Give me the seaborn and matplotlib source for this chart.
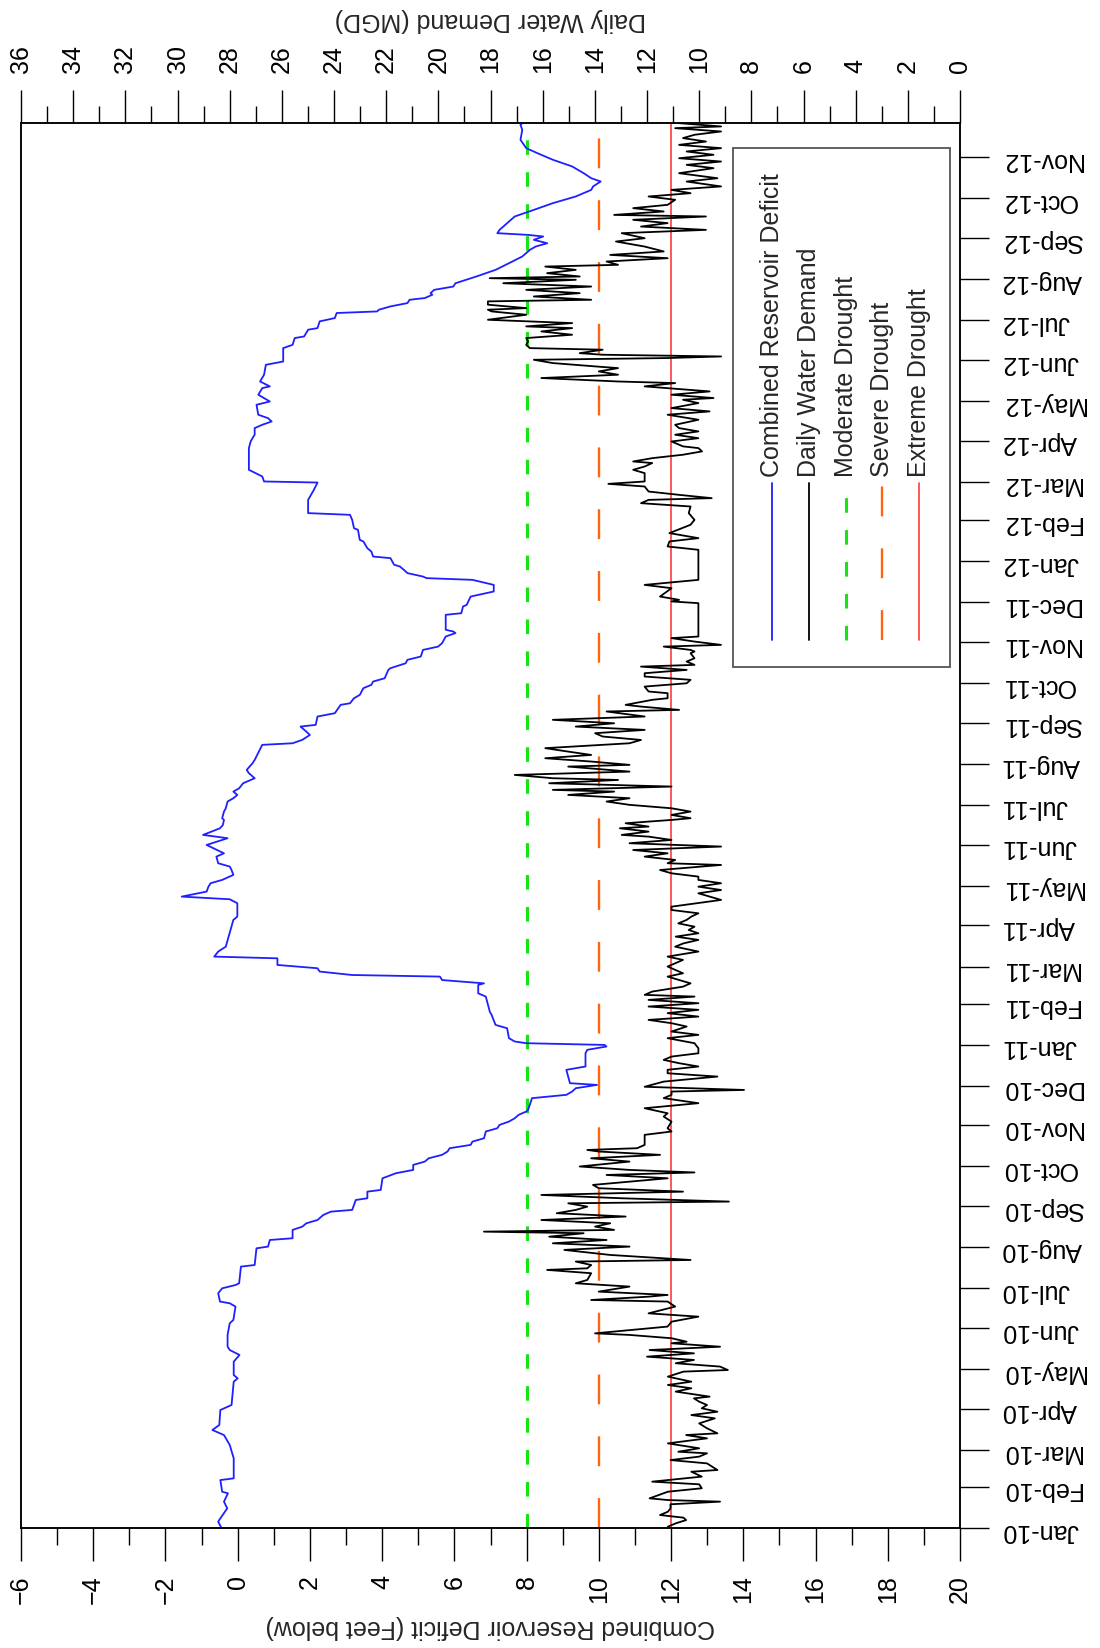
import pandas as pd
import seaborn as sns
import matplotlib
matplotlib.use("Agg")
import matplotlib.pyplot as plt
import matplotlib.dates as mdates
from matplotlib.lines import Line2D
from matplotlib.patches import Rectangle
from matplotlib.ticker import MultipleLocator

# days after 2010-01-01 and combined reservoir deficit (feet below)
deficit_day = [0, 4.8, 7.3, 14.8, 19.9, 26.2, 27.4, 36.2, 37.5, 52.6, 62.7, 70.2, 74.0, 77.8, 89.1, 92.9,
               110.5, 113.0, 115.5, 125.6, 130.7, 134.4, 137.0, 145.8, 154.6, 157.1, 167.2, 169.7, 171.0,
               177.3, 181.0, 183.5, 184.8, 197.4, 198.6, 211.2, 212.5, 217.5, 218.8, 225.1, 227.6, 230.1,
               232.6, 236.4, 238.9, 240.2, 247.7, 249.0, 254.0, 255.3, 264.1, 267.9, 270.4, 274.2, 276.7,
               279.2, 281.8, 284.3, 286.8, 289.3, 291.8, 294.3, 299.4, 301.9, 304.4, 306.9, 309.4, 312.0,
               314.5, 315.7, 324.6, 327.1, 329.6, 332.1, 334.6, 335.9, 346.0, 348.5, 358.5, 361.1, 363.6,
               364.8, 366.1, 367.4, 369.9, 377.4, 379.9, 387.5, 390.0, 401.3, 403.8, 410.1, 411.3, 413.8,
               416.4, 417.6, 420.2, 422.7, 425.2, 430.2, 431.5, 435.3, 439.0, 459.2, 461.7, 471.8, 474.8,
               476.8, 480.6, 484.3, 486.9, 489.4, 493.2, 496.9, 499.5, 502.0, 507.0, 509.5, 515.8, 520.9,
               523.4, 528.4, 530.9, 534.7, 536.0, 541.0, 543.5, 548.6, 551.1, 553.6, 556.1, 558.6, 562.4,
               566.2, 570.0, 572.5, 577.5, 580.0, 591.4, 592.6, 595.2, 598.9, 601.4, 605.2, 606.5, 612.8,
               615.3, 621.6, 622.8, 626.6, 629.1, 634.2, 636.7, 639.2, 641.7, 648.0, 649.3, 653.0, 655.6,
               658.1, 663.1, 665.6, 668.2, 670.7, 673.2, 675.8, 677.0, 678.3, 689.6, 690.8, 695.9, 697.1,
               703.4, 705.9, 707.2, 712.2, 716.0, 717.3, 718.5, 721.1, 723.6, 726.1, 727.4, 732.4, 733.6,
               737.4, 739.9, 745.0, 746.2, 753.8, 755.0, 761.3, 765.1, 766.4, 776.4, 784.0, 789.5, 790.3,
               794.1, 799.1, 815.5, 820.5, 823.0, 825.6, 830.6, 833.1, 835.6, 838.1, 840.7, 848.2, 850.7,
               855.8, 860.8, 862.1, 865.8, 870.9, 878.4, 880.9, 891.0, 893.5, 898.6, 899.8, 904.9, 906.1,
               911.2, 913.7, 917.5, 918.7, 920.0, 922.5, 925.0, 927.5, 928.8, 931.3, 932.5, 935.0, 937.5,
               940.0, 945.1, 950.1, 955.1, 960.2, 965.2, 967.7, 970.2, 972.8, 975.3, 976.5, 977.8, 980.3,
               985.4, 990.4, 995.4, 1000.5, 1005.5, 1010.5, 1013.1, 1016.8, 1019.3, 1023.1, 1028.2, 1033.2,
               1038.2, 1042.0, 1048.3, 1055.8, 1059.6, 1063.4]
deficit_ft = [-0.45, -0.54, -0.48, -0.29, -0.38, -0.27, -0.43, -0.48, -0.11, -0.11, -0.22, -0.38, -0.70,
              -0.51, -0.48, -0.17, -0.11, 0.00, -0.11, -0.11, 0.05, -0.22, -0.28, -0.28, -0.22, -0.12, -0.06,
              -0.22, -0.49, -0.54, -0.43, -0.06, 0.04, 0.09, 0.47, 0.52, 0.84, 0.89, 1.52, 1.52, 1.79, 1.90,
              2.21, 2.37, 2.58, 3.17, 3.27, 3.59, 3.59, 3.96, 4.01, 4.38, 4.86, 4.86, 5.18, 5.29, 5.66, 5.81,
              5.87, 6.45, 6.50, 6.82, 6.87, 7.19, 7.25, 7.51, 7.67, 7.78, 7.99, 8.04, 8.15, 9.10, 9.26, 9.36,
              9.95, 9.20, 9.10, 9.63, 9.63, 9.68, 10.21, 10.16, 7.99, 7.67, 7.51, 7.46, 7.14, 7.03, 6.98, 6.87,
              6.66, 6.66, 6.82, 5.66, 5.60, 3.17, 2.27, 2.21, 1.10, 1.10, -0.65, -0.54, -0.33, -0.12, -0.01,
              -0.01, -0.22, -1.55, -0.86, -0.81, -0.75, -0.43, -0.12, -0.17, -0.22, -0.54, -0.59, -0.38,
              -0.86, -0.28, -0.96, -0.49, -0.41, -0.38, -0.43, -0.38, -0.33, -0.28, -0.12, -0.01, -0.12, 0.04,
              0.15, 0.47, 0.31, 0.25, 0.41, 0.47, 0.68, 1.52, 1.79, 2.00, 1.90, 1.74, 2.16, 2.21, 2.69, 2.85,
              3.11, 3.22, 3.38, 3.48, 3.70, 3.75, 4.07, 4.17, 4.23, 4.65, 4.70, 5.07, 5.13, 5.55, 5.66, 5.71,
              5.76, 6.03, 5.97, 5.76, 5.76, 6.19, 6.24, 6.34, 6.45, 6.87, 7.09, 7.09, 6.50, 5.23, 5.13, 4.70,
              4.60, 4.49, 4.33, 4.23, 3.75, 3.70, 3.59, 3.48, 3.38, 3.33, 3.22, 3.17, 3.11, 1.95, 1.95, 2.11,
              2.21, 0.73, 0.68, 0.31, 0.31, 0.36, 0.41, 0.47, 0.47, 0.68, 0.94, 0.84, 0.57, 0.52, 0.89, 0.57,
              0.68, 0.89, 0.62, 0.73, 0.78, 1.26, 1.26, 1.52, 1.58, 1.84, 1.95, 2.21, 2.27, 2.69, 2.74, 3.86,
              3.91, 4.23, 4.70, 4.76, 5.18, 5.39, 5.34, 5.44, 5.97, 6.03, 6.61, 7.14, 7.51, 7.88, 8.09, 8.25,
              8.57, 8.20, 8.46, 8.04, 7.19, 7.25, 7.46, 7.67, 8.20, 8.73, 9.36, 9.79, 9.84, 10.05, 9.79, 9.58,
              9.26, 8.73, 8.30, 7.99, 7.83, 7.88, 7.83, 7.99]

# days after 2010-01-01 and daily water demand (MGD)
demand_day = [1.0, 3.5, 6.0, 7.8, 9.8, 12.3, 14.8, 17.9, 19.9, 21.1, 22.4, 27.4, 30.0, 33.0, 35.0, 38.8,
              42.5, 43.8, 48.8, 51.3, 53.9, 56.4, 57.6, 60.2, 62.7, 63.9, 67.7, 70.2, 71.5, 75.3, 79.0, 82.8,
              85.3, 87.8, 90.4, 92.9, 95.4, 97.9, 99.2, 103.0, 105.5, 108.0, 110.5, 113.0, 114.3, 118.1,
              119.3, 121.9, 124.4, 126.9, 129.4, 131.9, 134.4, 136.9, 139.5, 140.7, 143.3, 145.8, 147.0,
              152.1, 155.8, 159.6, 162.1, 167.2, 171.0, 172.2, 174.7, 176.0, 178.5, 182.3, 184.8, 187.3,
              192.4, 194.9, 196.1, 198.6, 201.2, 202.4, 206.2, 210.0, 212.5, 215.0, 217.5, 220.0, 222.6,
              223.8, 225.1, 227.6, 230.1, 232.6, 235.2, 237.7, 240.2, 242.7, 245.2, 246.5, 249.0, 251.5,
              254.0, 256.6, 259.1, 264.1, 266.6, 268.5, 270.4, 273.0, 276.7, 279.2, 281.8, 284.3, 285.5,
              286.8, 289.3, 294.3, 296.9, 299.4, 301.9, 306.9, 310.7, 313.2, 317.0, 320.8, 324.6, 327.1,
              329.6, 330.8, 333.2, 337.1, 340.9, 343.4, 346.0, 348.5, 351.0, 353.5, 356.0, 358.5, 362.3,
              366.1, 369.9, 372.4, 374.9, 378.7, 381.2, 383.7, 386.2, 388.8, 391.3, 393.8, 396.3, 398.8,
              401.3, 402.6, 405.1, 408.8, 411.3, 416.4, 418.9, 424.0, 429.0, 431.5, 435.3, 439.0, 441.5,
              444.1, 446.6, 449.1, 451.6, 454.1, 456.6, 459.2, 461.7, 464.2, 466.7, 469.2, 474.3, 479.3,
              481.8, 484.3, 486.9, 489.4, 491.9, 494.4, 496.9, 500.7, 502.0, 504.5, 507.0, 509.5, 512.0,
              514.6, 517.1, 519.6, 522.1, 523.4, 525.9, 528.4, 529.7, 532.2, 534.7, 536.0, 538.5, 541.0,
              543.5, 546.1, 548.6, 551.1, 553.6, 556.1, 557.4, 559.9, 562.4, 564.9, 566.2, 568.7, 571.2,
              575.0, 576.3, 578.8, 581.3, 583.8, 586.3, 588.9, 592.6, 595.1, 597.7, 600.2, 602.7, 605.2,
              607.7, 610.3, 612.8, 616.6, 617.8, 620.3, 621.6, 625.4, 626.6, 630.4, 631.7, 635.4, 637.9,
              640.5, 643.0, 645.5, 648.0, 650.5, 651.8, 654.3, 656.8, 660.6, 661.9, 663.1, 665.6, 666.9,
              669.4, 672.0, 673.2, 698.4, 699.7, 700.9, 703.4, 709.7, 712.2, 716.0, 738.7, 741.2, 745.0,
              747.5, 751.3, 757.6, 761.3, 766.4, 771.4, 773.9, 776.4, 777.7, 780.2, 782.7, 786.5, 788.5,
              790.3, 796.6, 799.1, 801.6, 804.2, 805.4, 807.9, 810.5, 813.0, 815.5, 816.8, 820.5, 823.0,
              825.6, 828.1, 830.6, 833.1, 836.9, 840.7, 843.2, 845.7, 849.5, 852.0, 853.3, 855.8, 858.3,
              860.8, 862.1, 864.6, 865.8, 868.4, 870.9, 873.4, 875.9, 877.2, 879.7, 882.2, 883.5, 884.7,
              886.0, 887.2, 889.8, 891.0, 893.5, 896.1, 898.6, 901.1, 903.6, 906.1, 907.4, 909.9, 912.4,
              916.2, 918.7, 920.0, 921.2, 923.8, 926.3, 927.5, 930.0, 932.5, 935.0, 937.5, 940.0, 942.6,
              943.8, 945.1, 947.6, 950.1, 952.6, 953.9, 956.4, 958.9, 961.4, 964.0, 967.7, 971.5, 974.0,
              977.8, 980.3, 982.8, 985.4, 987.9, 990.4, 991.6, 994.2, 996.7, 999.2, 1003.0, 1005.5, 1008.0,
              1010.5, 1013.1, 1016.8, 1019.3, 1023.1, 1026.9, 1029.4, 1031.9, 1034.4, 1037.0, 1039.5,
              1042.0, 1044.5, 1047.0, 1049.6, 1052.1, 1054.6, 1057.1, 1058.4, 1060.9, 1062.1, 1063.4]
demand_mgd = [11.2, 10.9, 10.5, 10.6, 11.5, 11.2, 11.1, 11.1, 9.2, 11.2, 11.9, 11.2, 9.9, 10.0, 11.8, 9.9,
              10.3, 9.3, 9.7, 11.1, 10.0, 9.7, 10.8, 10.0, 10.8, 11.2, 9.7, 10.5, 9.3, 9.7, 10.0, 9.4,
              10.3, 9.3, 9.9, 9.7, 10.0, 10.2, 9.6, 10.9, 10.3, 11.2, 10.3, 10.9, 11.2, 10.6,
              8.9, 9.2, 10.9, 10.2, 12.0, 10.2, 11.9, 9.2, 11.06, 10.48, 11.06, 12.67, 13.99,
              11.21, 11.06, 10.03, 11.94, 10.92, 11.21, 14.14, 11.94, 11.21, 13.85, 12.67, 14.73, 14.29,
              14.14, 15.83, 14.29, 14.14, 14.73, 10.33, 13.41, 15.17, 12.67, 15.61, 13.55, 15.75, 14.43,
              18.25, 13.26, 13.99, 13.41, 16.05, 12.82, 15.46, 14.73, 14.29, 15.02, 8.86, 12.97, 16.05,
              10.62, 13.85, 14.07, 11.21, 13.55, 10.18, 12.67, 14.58, 12.67, 14.14, 11.50, 13.85, 14.29,
              12.38, 12.09, 12.09, 12.09, 11.06, 11.21, 11.06, 11.36, 11.21, 12.09, 10.03, 11.36, 11.06,
              11.06, 8.28, 12.09, 11.36, 9.30, 11.21, 11.21, 10.03, 10.77, 11.36, 11.06, 10.03, 10.03,
              10.18, 11.21, 10.03, 11.06, 10.48, 11.06, 11.94, 10.03, 11.21, 10.03, 11.94, 10.03, 11.94,
              10.18, 12.09, 11.80, 10.62, 10.33, 11.21, 10.62, 11.21, 10.62, 11.21, 10.03, 10.92, 10.6,
              10.03, 10.9, 10.03, 10.4, 10.18, 10.8, 10.48, 10.3, 10.03, 11.06, 11.06, 9.16, 10.03,
              9.16, 10.03, 9.16, 10.03, 10.03, 11.06, 11.50, 9.16, 11.21, 10.92, 12.09, 11.21, 12.53,
              9.16, 12.67, 11.06, 11.94, 12.97, 11.94, 13.04, 11.94, 12.82, 11.06, 10.33, 11.06, 10.33,
              11.06, 12.67, 13.55, 12.67, 15.02, 13.26, 15.61, 11.06, 15.75, 13.11, 15.61, 17.07, 12.67,
              15.02, 12.67, 14.14, 15.90, 14.14, 15.02, 15.90, 12.67, 12.23, 13.70, 13.99, 12.09, 14.73,
              13.26, 15.61, 12.09, 13.55, 10.77, 12.23, 12.82, 11.80, 11.21, 11.21, 11.94, 12.09, 10.48,
              10.33, 12.09, 12.09, 10.48, 12.23, 10.18, 10.48, 10.18, 10.33, 10.18, 10.33, 11.36, 9.16,
              10.18, 11.06, 10.03, 10.03, 11.06, 10.77, 11.50, 11.06, 12.09, 10.03, 10.03, 11.21, 11.14,
              10.03, 11.14, 10.33, 10.18, 10.40, 10.33, 12.23, 11.94, 9.52, 10.77, 11.94, 12.09, 13.48,
              12.09, 12.09, 12.53, 12.09, 11.80, 12.53, 11.80, 10.62, 9.89, 10.03, 10.62, 11.06, 10.03,
              10.92, 10.03, 10.77, 10.92, 10.03, 11.21, 9.60, 11.06, 10.03, 10.62, 9.45, 11.06, 9.60,
              11.21, 12.09, 10.92, 13.11, 16.05, 13.11, 13.85, 13.11, 13.99, 15.61, 16.34, 11.21, 9.16,
              13.70, 14.58, 13.70, 16.49, 16.63, 16.56, 16.63, 14.87, 16.05, 14.87, 16.63, 14.87, 18.10,
              16.63, 17.95, 18.10, 16.63, 18.10, 18.10, 14.14, 16.34, 14.58, 16.63, 14.14, 17.51, 14.73,
              18.03, 14.58, 15.83, 14.73, 15.90, 13.11, 13.55, 11.21, 13.41, 11.36, 12.09, 13.19, 12.09,
              12.97, 9.74, 12.23, 11.21, 12.53, 9.74, 13.26, 11.36, 12.53, 11.21, 10.92, 11.94, 10.33,
              11.06, 9.16, 10.48, 9.30, 10.77, 9.45, 10.48, 9.16, 10.77, 9.45, 10.48,
              9.16, 10.77, 9.74, 10.62, 10.18, 9.16, 10.92, 9.16, 10.77, 9.74, 10.92]

drought_names = ["Moderate Drought", "Severe Drought", "Extreme Drought"]
drought_levels = [8, 10, 12]
series_names = ["Combined Reservoir Deficit", "Daily Water Demand"]

start = pd.Timestamp("2010-01-01")
end = pd.Timestamp("2012-11-27")
deficit = pd.DataFrame({"date": start + pd.to_timedelta(deficit_day, unit="D"), "deficit": deficit_ft})
demand = pd.DataFrame({"date": start + pd.to_timedelta(demand_day, unit="D"), "mgd": demand_mgd})

sns.set_style("ticks")
plt.rcParams["font.family"] = ["Liberation Sans", "DejaVu Sans"]
plt.rcParams["lines.scale_dashes"] = False
plt.rcParams["axes.edgecolor"] = "black"
plt.rcParams["xtick.color"] = "black"
plt.rcParams["ytick.color"] = "black"

drought_styles = [dict(color="#14e614", lw=2.2, dashes=(10.5, 12.5)),
                  dict(color="#ff6410", lw=1.7, dashes=(21.5, 23)),
                  dict(color="#ff3b3b", lw=1.2)]

fig = plt.figure(figsize=(11, 16.48), dpi=100)
ax = fig.add_axes([21 / 1100, 120 / 1648, 939 / 1100, 1405 / 1648])

# drought thresholds (on the deficit scale)
for level, style in zip(drought_levels, drought_styles):
    ax.axvline(level, zorder=1, **style)

sns.lineplot(data=deficit, x="deficit", y="date", orient="y", sort=False, estimator=None,
             color="#1f1fff", lw=1.3, ax=ax, zorder=3)
ax.set_xlim(-6, 20)
ax.set_ylim(start, end)
ax.xaxis.set_major_locator(MultipleLocator(2))
ax.xaxis.set_minor_locator(MultipleLocator(1))
ax.yaxis.set_major_locator(mdates.MonthLocator())
ax.yaxis.set_major_formatter(mdates.DateFormatter("%b-%y"))
ax.set_ylabel("")
ax.set_xlabel("Combined Reservoir Deficit (Feet below)", fontsize=18, rotation=180, labelpad=8)

ax2 = ax.twiny()
sns.lineplot(data=demand, x="mgd", y="date", orient="y", sort=False, estimator=None,
             color="black", lw=1.3, ax=ax2)
ax2.set_xlim(36, 0)
ax2.set_ylim(start, end)
ax2.xaxis.set_major_locator(MultipleLocator(2))
ax2.xaxis.set_minor_locator(MultipleLocator(1))
ax2.set_xlabel("Daily Water Demand (MGD)", fontsize=18, rotation=180, labelpad=13)

ax.tick_params(axis="x", which="major", length=24, width=1, labelsize=18, labelrotation=90, pad=10)
ax.tick_params(axis="x", which="minor", length=12, width=1)
ax.tick_params(axis="y", which="major", left=False, right=True, labelleft=False, labelright=True,
               length=21, width=1, labelsize=18, labelrotation=180, pad=9)
ax2.tick_params(axis="x", which="major", length=24, width=1, labelsize=18, labelrotation=90, pad=12)
ax2.tick_params(axis="x", which="minor", length=12, width=1)
for a in (ax, ax2):
    for sp in a.spines.values():
        sp.set_linewidth(1.1)
        sp.set_color("black")

# legend, drawn turned like the rest of the chart
fig.add_artist(Rectangle((733 / 1100, 1 - 667 / 1648), 217 / 1100, 519 / 1648, transform=fig.transFigure,
                         facecolor="white", edgecolor="#555555", lw=1.3, zorder=5))
legend_styles = [dict(color="#1f1fff", lw=1.3), dict(color="black", lw=1.3)] + drought_styles
legend_x = [772, 809, 846, 882, 919]
for name, style, px in zip(series_names + drought_names, legend_styles, legend_x):
    fx = px / 1100
    fig.add_artist(Line2D([fx, fx], [1 - 640 / 1648, 1 - 483 / 1648], transform=fig.transFigure,
                          zorder=6, **style))
    fig.text(fx, 1 - 477 / 1648, name, rotation=90, ha="center", va="bottom", fontsize=18, zorder=6)

fig.savefig("out.png", dpi=100)
